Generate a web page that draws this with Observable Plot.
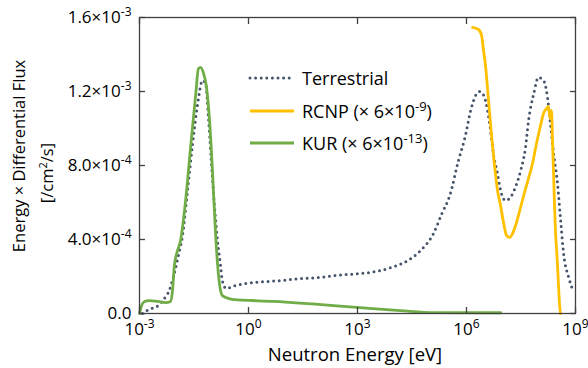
<!DOCTYPE html>
<html><head><meta charset="utf-8">
<script src="https://cdn.jsdelivr.net/npm/d3@7"></script>
<script src="https://cdn.jsdelivr.net/npm/@observablehq/plot@0.6"></script>
<style>html,body{margin:0;padding:0;background:#fff}</style>
</head><body><div id="chart"></div>
<script>
// Neutron energy [eV] and Energy × differential flux [/cm²/s]
const terrEnergy = [1.2e-3,1.6e-3,2.1e-3,3.0e-3,4.0e-3,5.5e-3,6.6e-3,7.6e-3,8.5e-3,1.05e-2,1.26e-2,1.5e-2,2.1e-2,2.9e-2,4.0e-2,5.4e-2,6.6e-2,7.9e-2,9.5e-2,0.116,0.14,0.17,0.19,0.245,0.32,0.44,0.6,1.9,3.3,7.6,27,95,220,1200,1900,8900,2.4e4,5.4e4,1.23e5,2.1e5,3.5e5,6.0e5,9.3e5,1.3e6,1.8e6,2.3e6,3.0e6,3.8e6,4.6e6,5.5e6,7.1e6,8.7e6,1.17e7,1.6e7,2.2e7,3.1e7,4.2e7,5.1e7,7.1e7,9.5e7,1.32e8,1.7e8,2.0e8,2.5e8,3.2e8,3.9e8,4.7e8,6.5e8,8.3e8];
const terrFlux = [0,1.6e-5,2.7e-5,3.8e-5,6.0e-5,9.7e-5,1.24e-4,1.62e-4,1.95e-4,2.7e-4,3.4e-4,4.1e-4,6.65e-4,9.19e-4,1.135e-3,1.26e-3,1.243e-3,1.06e-3,8.2e-4,5.78e-4,3.95e-4,2.6e-4,1.78e-4,1.35e-4,1.41e-4,1.51e-4,1.57e-4,1.70e-4,1.73e-4,1.78e-4,1.89e-4,1.95e-4,2.05e-4,2.16e-4,2.2e-4,2.5e-4,2.86e-4,3.4e-4,4.32e-4,5.4e-4,6.4e-4,8.27e-4,9.6e-4,1.097e-3,1.18e-3,1.2e-3,1.178e-3,1.097e-3,9.89e-4,8.65e-4,7.57e-4,6.65e-4,6.11e-4,6.27e-4,6.81e-4,7.73e-4,8.97e-4,1.043e-3,1.189e-3,1.276e-3,1.26e-3,1.167e-3,1.043e-3,8.65e-4,7.03e-4,5.03e-4,3.24e-4,1.95e-4,1.30e-4];

const rcnpEnergy = [1.47e6,2.14e6,2.6e6,2.94e6,3.34e6,4.04e6,4.89e6,5.9e6,7.15e6,8.65e6,1.045e7,1.26e7,1.53e7,1.85e7,2.38e7,3.07e7,3.95e7,5.1e7,6.56e7,8.45e7,1.09e8,1.32e8,1.6e8,1.81e8,1.93e8,2.06e8,2.19e8,2.33e8,2.48e8,2.65e8,2.82e8,3.0e8,3.2e8,3.41e8,3.63e8,3.87e8];
const rcnpFlux = [1.546e-3,1.535e-3,1.503e-3,1.422e-3,1.34e-3,1.151e-3,9.62e-4,8.0e-4,6.65e-4,5.84e-4,4.92e-4,4.22e-4,4.11e-4,4.32e-4,4.92e-4,5.73e-4,6.54e-4,7.30e-4,8.11e-4,9.19e-4,1.016e-3,1.081e-3,1.108e-3,1.119e-3,1.07e-3,1.054e-3,1.097e-3,9.35e-4,7.7e-4,5.8e-4,4.4e-4,3.5e-4,2.6e-4,1.5e-4,5e-5,0];

const kurEnergy = [1.0e-3,1.14e-3,1.38e-3,1.86e-3,3.2e-3,5.2e-3,7.1e-3,8.1e-3,9.1e-3,1.12e-2,1.35e-2,1.86e-2,2.5e-2,3.5e-2,4.2e-2,4.8e-2,5.75e-2,6.9e-2,8.5e-2,0.102,0.124,0.149,0.19,0.25,0.36,4.9,220,3200,1.5e4,1.23e5,8.7e6];
const kurFlux = [0,4.3e-5,6.5e-5,7.0e-5,6.5e-5,5.9e-5,6.5e-5,1.24e-4,2.59e-4,3.41e-4,3.95e-4,6.11e-4,8.81e-4,1.178e-3,1.324e-3,1.33e-3,1.30e-3,1.23e-3,1.04e-3,7.7e-4,4.3e-4,2.1e-4,9.7e-5,8.5e-5,7.6e-5,6.5e-5,4.3e-5,2.5e-5,1.6e-5,5e-6,4e-6];

const xTicks = [1e-3, 1e0, 1e3, 1e6, 1e9];
const xTickExponents = ["-3", "0", "3", "6", "9"];
const yTicks = [0, 4e-4, 8e-4, 1.2e-3, 1.6e-3];
const yTickMantissas = ["0.0", "4.0", "8.0", "1.2", "1.6"];
const yTickExponents = ["", "-4", "-4", "-3", "-3"];

const seriesNames = ["Terrestrial", "RCNP", "KUR"];
const seriesScale = ["", "-9", "-13"];
const colors = ["#44546A", "#FFC000", "#70AD47"];

const FONT = "'Open Sans', 'Noto Sans', sans-serif";
const TICK_FS = 17, TICK_SUP = 12;
const TITLE_FS = 18.5, YTITLE_FS = 16.5, LEG_FS = 18, LEG_SUP = 13;
const axisColor = "#404040";

function idx(a) { return a.map((_, i) => i); }

const plot = Plot.plot({
  width: 588, height: 368,
  marginLeft: 139, marginRight: 13, marginTop: 17, marginBottom: 55,
  style: {fontFamily: FONT, fontSize: TICK_FS + "px", color: "#000", background: "#fff"},
  x: {type: "log", domain: [1e-3, 1e9]},
  y: {domain: [0, 1.6e-3]},
  marks: [
    Plot.line(idx(terrEnergy), {x: i => terrEnergy[i], y: i => terrFlux[i], curve: "monotone-x",
      stroke: colors[0], strokeWidth: 3, strokeDasharray: "0 5.6", strokeLinecap: "round"}),
    Plot.line(idx(rcnpEnergy), {x: i => rcnpEnergy[i], y: i => rcnpFlux[i], curve: "monotone-x",
      stroke: colors[1], strokeWidth: 2.8}),
    Plot.line(idx(kurEnergy), {x: i => kurEnergy[i], y: i => kurFlux[i], curve: "monotone-x",
      stroke: colors[2], strokeWidth: 2.8}),
    Plot.frame({stroke: axisColor, strokeWidth: 1.3}),
    Plot.axisX({ticks: xTicks, anchor: "bottom", tickSize: -6, tickFormat: () => "", stroke: axisColor, strokeWidth: 1.3, label: null}),
    Plot.axisX({ticks: xTicks, anchor: "top", tickSize: -6, tickFormat: () => "", stroke: axisColor, strokeWidth: 1.3, label: null}),
    Plot.axisY({ticks: yTicks, anchor: "left", tickSize: -6, tickFormat: () => "", stroke: axisColor, strokeWidth: 1.3, label: null}),
    Plot.axisY({ticks: yTicks, anchor: "right", tickSize: -6, tickFormat: () => "", stroke: axisColor, strokeWidth: 1.3, label: null}),
    Plot.axisX({ticks: xTicks, anchor: "bottom", tickSize: 0, tickPadding: 9, fontSize: TICK_FS, fill: "#000",
      tickFormat: d => "10^" + xTickExponents[xTicks.indexOf(d)], label: null}),
    Plot.axisY({ticks: yTicks, anchor: "left", tickSize: 0, tickPadding: 8, fontSize: TICK_FS, fill: "#000",
      tickFormat: d => { const k = yTicks.indexOf(d); return yTickExponents[k] ? yTickMantissas[k] + "×10^" + yTickExponents[k] : yTickMantissas[k]; }, label: null})
  ]
});

document.getElementById("chart").appendChild(plot);
const svg = d3.select(plot);

// superscripts in tick labels
svg.selectAll('g[aria-label$="tick label"] text').each(function() {
  const s = this.textContent;
  if (!s.includes("^")) return;
  const [base, sup] = s.split("^");
  const t = d3.select(this); t.text(null);
  t.append("tspan").text(base);
  t.append("tspan").attr("dy", -7).attr("font-size", TICK_SUP + "px").text(sup);
});

// axis titles
const ttl = svg.append("g").attr("font-family", FONT).attr("fill", "#000");
ttl.append("text").attr("text-anchor", "middle").attr("font-size", TITLE_FS).attr("x", 355).attr("y", 361).text("Neutron Energy [eV]");
const yt1 = ttl.append("text").attr("text-anchor", "middle").attr("font-size", YTITLE_FS).attr("transform", "translate(25,156) rotate(-90)");
yt1.text("Energy × Differential Flux");
const yt2 = ttl.append("text").attr("text-anchor", "middle").attr("font-size", YTITLE_FS).attr("transform", "translate(53,173) rotate(-90)");
yt2.append("tspan").text("[/cm");
yt2.append("tspan").attr("dy", -6).attr("font-size", "11px").text("2");
yt2.append("tspan").attr("dy", 6).text("/s]");

// legend
const lg = svg.append("g").attr("font-family", FONT).attr("font-size", LEG_FS).attr("fill", "#000").attr("text-anchor", "start");
const legY = [78, 111, 143];
seriesNames.forEach((name, i) => {
  const ln = lg.append("line").attr("x1", 250).attr("x2", 294).attr("y1", legY[i]).attr("y2", legY[i])
    .attr("stroke", colors[i]).attr("stroke-width", i === 0 ? 3 : 2.8);
  if (i === 0) ln.attr("stroke-dasharray", "0 5.6").attr("stroke-linecap", "round");
  const t = lg.append("text").attr("x", 302).attr("y", legY[i] + 7).attr("text-anchor", "start");
  if (!seriesScale[i]) { t.text(name); return; }
  t.append("tspan").text(name + " (× 6×10");
  t.append("tspan").attr("dy", -7).attr("font-size", LEG_SUP + "px").text(seriesScale[i]);
  t.append("tspan").attr("dy", 7).text(")");
});
</script>
</body></html>
